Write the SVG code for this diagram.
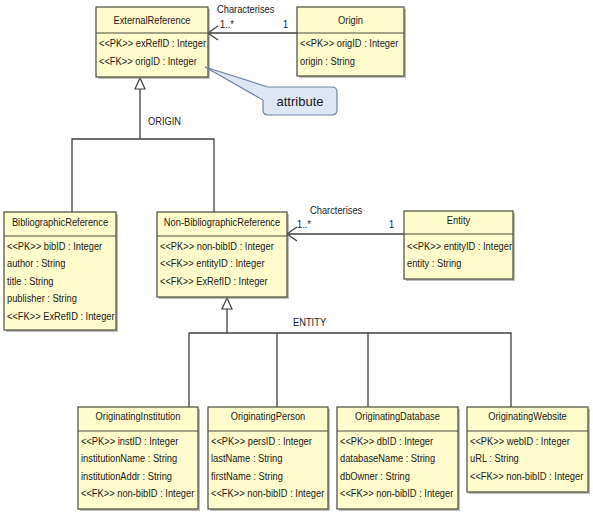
<svg xmlns="http://www.w3.org/2000/svg" width="593" height="529" viewBox="0 0 593 529">
<style>
  .bg{fill:#ffffff}
  .sh{fill:#8a8a80;opacity:0.55}
  .box{fill:#fffccb;stroke:#4a4a40;stroke-width:1.2}
  .div{stroke:#4a4a40;stroke-width:1.2}
  text{font-family:"Liberation Sans",Arial,sans-serif;font-size:11.5px;fill:#1a1a1a}
  .h{text-anchor:middle}
  .ln{fill:none;stroke:#404040;stroke-width:1.3}
  .tri{fill:#ffffff;stroke:#404040;stroke-width:1.2}
  .call{fill:#dde7f4;stroke:#6f84a6;stroke-width:1.2}
  .ct{font-size:13px;text-anchor:middle}
</style>
<rect class="bg" x="0" y="0" width="593" height="529"/>

<g id="connectors">
  <path class="ln" d="M297,33 H208 M218,26 L208,33 L218,40"/>
  <circle cx="208.5" cy="33" r="1.5" fill="#202020"/>
  <text transform="translate(217 13) scale(.81 1)">Characterises</text>
  <text transform="translate(220 28) scale(.81 1)">1..*</text>
  <text transform="translate(283 28) scale(.81 1)">1</text>
  <path class="ln" d="M404,234 H287 M297,227 L287,234 L297,241"/>
  <circle cx="287.5" cy="234" r="1.5" fill="#202020"/>
  <text transform="translate(310 214) scale(.81 1)">Charcterises</text>
  <text transform="translate(297 228) scale(.81 1)">1..*</text>
  <text transform="translate(389 228) scale(.81 1)">1</text>
  <path class="ln" d="M140,89 V139 M72,212 V139 H214 V212"/>
  <polygon class="tri" points="140,78 135,89 145,89"/>
  <text transform="translate(148 125) scale(.81 1)">ORIGIN</text>
  <path class="ln" d="M227,309 V333 M189,407 V333 H511 V407 M277,333 V407 M368,333 V407"/>
  <polygon class="tri" points="227,298 222,309 232,309"/>
  <text transform="translate(293 326) scale(.81 1)">ENTITY</text>
</g>

<g id="ExternalReference">
  <rect class="sh" x="98" y="9" width="112" height="70"/>
  <rect class="box" x="96" y="7" width="112" height="70"/>
  <line class="div" x1="96" y1="33" x2="208" y2="33"/>
  <text class="h" transform="translate(152 24) scale(.81 1)">ExternalReference</text>
  <text transform="translate(99 47) scale(.81 1)">&lt;&lt;PK&gt;&gt; exRefID : Integer</text>
  <text transform="translate(99 65) scale(.81 1)">&lt;&lt;FK&gt;&gt; origID : Integer</text>
</g>

<g id="Origin">
  <rect class="sh" x="299" y="9" width="107" height="69"/>
  <rect class="box" x="297" y="7" width="107" height="69"/>
  <line class="div" x1="297" y1="33" x2="404" y2="33"/>
  <text class="h" transform="translate(350.5 24) scale(.81 1)">Origin</text>
  <text transform="translate(300 47) scale(.81 1)">&lt;&lt;PK&gt;&gt; origID : Integer</text>
  <text transform="translate(300 65) scale(.81 1)">origin : String</text>
</g>

<g id="attribute-note">
  <path class="call" d="M268,87 H332 Q337,87 337,92 V110 Q337,115 332,115 H268 Q263,115 263,110 V100 L205,67 Z"/>
  <text class="ct" x="300" y="106">attribute</text>
</g>

<g id="BibliographicReference">
  <rect class="sh" x="6" y="214" width="112" height="118"/>
  <rect class="box" x="4" y="212" width="112" height="118"/>
  <line class="div" x1="4" y1="236" x2="116" y2="236"/>
  <text class="h" transform="translate(60 226) scale(.81 1)">BibliographicReference</text>
  <text transform="translate(7 250) scale(.81 1)">&lt;&lt;PK&gt;&gt; bibID : Integer</text>
  <text transform="translate(7 267) scale(.81 1)">author : String</text>
  <text transform="translate(7 285) scale(.81 1)">title : String</text>
  <text transform="translate(7 302) scale(.81 1)">publisher : String</text>
  <text transform="translate(7 320) scale(.81 1)">&lt;&lt;FK&gt;&gt; ExRefID : Integer</text>
</g>

<g id="NonBibliographicReference">
  <rect class="sh" x="159" y="214" width="130" height="85"/>
  <rect class="box" x="157" y="212" width="130" height="85"/>
  <line class="div" x1="157" y1="236" x2="287" y2="236"/>
  <text class="h" transform="translate(222 226) scale(.81 1)">Non-BibliographicReference</text>
  <text transform="translate(160 250) scale(.81 1)">&lt;&lt;PK&gt;&gt; non-bibID : Integer</text>
  <text transform="translate(160 267) scale(.81 1)">&lt;&lt;FK&gt;&gt; entityID : Integer</text>
  <text transform="translate(160 285) scale(.81 1)">&lt;&lt;FK&gt;&gt; ExRefID : Integer</text>
</g>

<g id="Entity">
  <rect class="sh" x="406" y="213" width="109" height="68"/>
  <rect class="box" x="404" y="211" width="109" height="68"/>
  <line class="div" x1="404" y1="234" x2="513" y2="234"/>
  <text class="h" transform="translate(458.5 224) scale(.81 1)">Entity</text>
  <text transform="translate(407 250) scale(.81 1)">&lt;&lt;PK&gt;&gt; entityID : Integer</text>
  <text transform="translate(407 267) scale(.81 1)">entity : String</text>
</g>

<g id="OriginatingInstitution">
  <rect class="sh" x="80" y="409" width="120" height="102"/>
  <rect class="box" x="78" y="407" width="120" height="102"/>
  <line class="div" x1="78" y1="431" x2="198" y2="431"/>
  <text class="h" transform="translate(138 420) scale(.81 1)">OriginatingInstitution</text>
  <text transform="translate(81 445) scale(.81 1)">&lt;&lt;PK&gt;&gt; instID : Integer</text>
  <text transform="translate(81 462) scale(.81 1)">institutionName : String</text>
  <text transform="translate(81 480) scale(.81 1)">institutionAddr : String</text>
  <text transform="translate(81 497) scale(.81 1)">&lt;&lt;FK&gt;&gt; non-bibID : Integer</text>
</g>

<g id="OriginatingPerson">
  <rect class="sh" x="210" y="409" width="120" height="102"/>
  <rect class="box" x="208" y="407" width="120" height="102"/>
  <line class="div" x1="208" y1="431" x2="328" y2="431"/>
  <text class="h" transform="translate(268 420) scale(.81 1)">OriginatingPerson</text>
  <text transform="translate(211 445) scale(.81 1)">&lt;&lt;PK&gt;&gt; persID : Integer</text>
  <text transform="translate(211 462) scale(.81 1)">lastName : String</text>
  <text transform="translate(211 480) scale(.81 1)">firstName : String</text>
  <text transform="translate(211 497) scale(.81 1)">&lt;&lt;FK&gt;&gt; non-bibID : Integer</text>
</g>

<g id="OriginatingDatabase">
  <rect class="sh" x="339" y="409" width="121" height="102"/>
  <rect class="box" x="337" y="407" width="121" height="102"/>
  <line class="div" x1="337" y1="431" x2="458" y2="431"/>
  <text class="h" transform="translate(397.5 420) scale(.81 1)">OriginatingDatabase</text>
  <text transform="translate(340 445) scale(.81 1)">&lt;&lt;PK&gt;&gt; dbID : Integer</text>
  <text transform="translate(340 462) scale(.81 1)">databaseName : String</text>
  <text transform="translate(340 480) scale(.81 1)">dbOwner : String</text>
  <text transform="translate(340 497) scale(.81 1)">&lt;&lt;FK&gt;&gt; non-bibID : Integer</text>
</g>

<g id="OriginatingWebsite">
  <rect class="sh" x="469" y="409" width="121" height="85"/>
  <rect class="box" x="467" y="407" width="121" height="85"/>
  <line class="div" x1="467" y1="431" x2="588" y2="431"/>
  <text class="h" transform="translate(527.5 420) scale(.81 1)">OriginatingWebsite</text>
  <text transform="translate(470 445) scale(.81 1)">&lt;&lt;PK&gt;&gt; webID : Integer</text>
  <text transform="translate(470 462) scale(.81 1)">uRL : String</text>
  <text transform="translate(470 480) scale(.81 1)">&lt;&lt;FK&gt;&gt; non-bibID : Integer</text>
</g>
</svg>
